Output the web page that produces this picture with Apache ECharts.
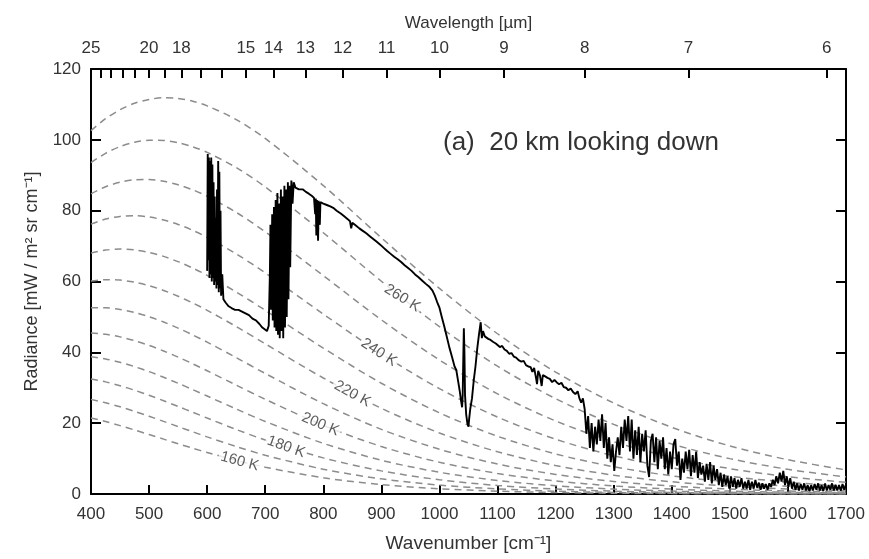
<!DOCTYPE html>
<html>
<head>
<meta charset="utf-8">
<script src="https://cdn.jsdelivr.net/npm/echarts@6/dist/echarts.min.js"></script>
<style>
body { margin: 0; background: #fff; }
#chart { width: 869px; height: 559px; }
</style>
</head>
<body>
<div id="chart"></div>
<script>
// wavenumbers where the blackbody curves were read
var planckWn = [400, 425, 450, 475, 500, 525, 550, 575, 600, 650, 700, 800, 900, 1000, 1100, 1200, 1300, 1400, 1500, 1600, 1700];
var curveTemps = [270, 260, 250, 240, 230, 220, 210, 200, 190, 180, 170, 160];
var r270 = [102.6, 105.96, 108.5, 110.34, 111.4, 111.87, 111.7, 110.91, 109.6, 105.73, 100.4, 87.09, 72.35, 58.05, 45.25, 34.44, 25.68, 18.82, 13.58, 9.67, 6.81];
var r260 = [93.56, 96.20, 98.10, 99.31, 99.86, 99.81, 99.17, 98.05, 96.46, 92.16, 86.70, 73.76, 60.08, 47.24, 36.09, 26.92, 19.67, 14.12, 9.985, 6.968, 4.805];
var r250 = [84.76, 86.74, 88.04, 88.70, 88.77, 88.29, 87.31, 85.89, 84.07, 79.52, 74.04, 61.66, 49.16, 37.83, 28.28, 20.63, 14.75, 10.36, 7.164, 4.890, 3.298];
var r240 = [76.21, 77.62, 78.38, 78.57, 78.21, 77.38, 76.11, 74.46, 72.48, 67.80, 62.42, 50.81, 39.58, 29.75, 21.72, 15.47, 10.80, 7.403, 4.999, 3.331, 2.194];
var r230 = [68.01, 68.87, 69.15, 68.92, 68.22, 67.09, 65.60, 63.80, 61.75, 57.05, 51.88, 41.19, 31.27, 22.91, 16.30, 11.31, 7.694, 5.139, 3.382, 2.195, 1.409];
var r220 = [60.11, 60.51, 60.39, 59.80, 58.82, 57.48, 55.83, 53.95, 51.87, 47.28, 42.41, 32.76, 24.19, 17.23, 11.92, 8.042, 5.315, 3.452, 2.207, 1.393, 0.869];
var r210 = [52.59, 52.58, 52.11, 51.25, 50.05, 48.56, 46.84, 44.93, 42.88, 38.52, 34.04, 25.50, 18.26, 12.62, 8.458, 5.533, 3.546, 2.232, 1.383, 0.846, 0.512];
var r200 = [45.45, 45.10, 44.36, 43.29, 41.95, 40.38, 38.64, 36.77, 34.80, 30.76, 26.73, 19.37, 13.41, 8.953, 5.802, 3.668, 2.271, 1.382, 0.828, 0.489, 0.286];
var r190 = [38.74, 38.12, 37.18, 35.96, 34.55, 32.96, 31.26, 29.48, 27.66, 24.00, 20.48, 14.30, 9.533, 6.130, 3.825, 2.329, 1.388, 0.813, 0.469, 0.267, 0.150];
var r180 = [32.49, 31.66, 30.58, 29.30, 27.88, 26.33, 24.72, 23.08, 21.44, 18.23, 15.23, 10.20, 6.527, 4.024, 2.408, 1.405, 0.803, 0.451, 0.250, 0.136, 0.073];
var r170 = [26.72, 25.76, 24.62, 23.33, 21.95, 20.50, 19.04, 17.57, 16.13, 13.41, 10.95, 7.002, 4.274, 2.514, 1.435, 0.799, 0.436, 0.234, 0.123, 0.064, 0.033];
var r160 = [21.48, 20.46, 19.31, 18.07, 16.79, 15.49, 14.20, 12.94, 11.73, 9.493, 7.556, 4.584, 2.655, 1.481, 0.802, 0.424, 0.219, 0.111, 0.056, 0.028, 0.013];
var curveRad = [r270, r260, r250, r240, r230, r220, r210, r200, r190, r180, r170, r160];

// temperature labels sitting on the curves
var labelTemps = [260, 240, 220, 200, 180, 160];
var labelWn = [936, 896, 850, 795, 736, 656];
var labelRad = [55.3, 40.0, 28.3, 19.7, 13.3, 9.2];

// measured spectrum [wavenumber, radiance]
var spectrum = [
  [600,63],[601,96],[602,66],[603,95],[604,61],[605,94],[606,62],[607,95],[608,60],[609,93],[610,61],[611,88],[612,59],[613,84],[614,60],[615,78],[616,58],[617,86],[618,59],[619,94],[620,57],[621,91],[622,58],[623,80],[624,56],[626,62],[628,55],[632,54],[637,53],[642,52.5],[648,52],[654,52],[660,51.5],[666,51],[672,50.5],[678,49.5],[684,49],[690,48],[695,47],[699,46.5],[703,46],[706,47.5],
  [708,62],[709,76],[710,52],[712,79],[713,49],[715,81],[716,47],[718,83],[719,46],[721,85],[722,45],[724,82],[725,44],[727,86],[728,46],[730,84],[731,44],[733,87],[734,47],[736,86],[737,50],[739,88],[740,55],[742,87],[743,64],[745,88.5],[747,82],[749,88],[752,86.5],[755,87],[758,86],
  [760,86.5],[765,86],[770,85.3],[775,84.8],[780,84.2],[784,83.6],[786,79],[787,83.4],[788,73],[789,83],[791,71.5],[792,82.8],[794,76],[795,82.4],[800,82],[806,81.6],[812,81.2],[817,80.8],[823,80],[830,79.2],[836,78.4],[842,77.6],[846,77],[848,75],[850,76.6],[856,75.8],[862,75],[868,74.3],[874,73.6],[880,72.8],[886,72],[892,71.2],[898,70.4],[904,69.5],[910,68.6],[916,67.8],[922,67],[928,66.3],[934,65.5],[940,64.6],[946,63.8],[952,63],[958,62],[964,61.2],[970,60.3],[976,59.4],[982,58.6],[988,57.4],[992,56],[996,54.2],
  [1000,52.6],[1004,50],[1008,47.5],[1012,44.8],[1017,41.4],[1022,38.5],[1026,36],[1029,35],[1032,32],[1035,29],[1037,26.5],[1039,24.5],[1040,28],[1041,38],[1042,46.8],[1043,40],[1044,28],[1046,22.5],[1048,20],[1050,19],[1051,21],[1053,24],[1056,27],[1059,32],[1062,36],[1065,41],[1068,45],[1071,48.5],[1073,44],[1075,46],[1078,44.5],[1080,45],[1084,43.8],[1088,43.5],[1092,43],[1097,42.5],[1100,42.2],
  [1104,41.5],[1108,41.8],[1112,40.8],[1116,40.4],[1120,39.6],[1124,39.8],[1128,38.8],[1132,38.5],[1137,37.7],[1141,37.4],[1145,37.6],[1149,36.4],[1153,36],[1157,35.8],[1160,34.5],[1163,35.6],[1166,33],[1168,31],[1170,34.8],[1173,33.5],[1176,30.5],[1178,33.6],[1182,33.2],[1186,32.8],[1190,32.5],[1194,31.6],[1198,32.2],[1202,31.5],[1206,31],[1210,31.4],[1214,30.2],[1218,30],[1222,29.3],[1226,29.8],[1230,28.8],[1234,28.2],[1238,29],[1241,27],[1244,25.8],[1247,27],
  [1250,24],[1253,17],[1256,22],[1259,13],[1262,20],[1265,12],[1268,19],[1271,14],[1274,21],[1277,15],[1280,22.5],[1283,13],[1286,20],[1289,10],[1292,16],[1295,9],[1298,14],[1301,6.5],[1304,12],[1307,16],[1310,11],[1313,19],[1316,13],[1319,21],[1322,15],[1325,22],[1328,12],[1331,21],[1334,10],[1337,18],[1340,11],[1343,19],[1346,9],[1349,17],[1352,12],[1355,18],[1358,8],[1361,4.8],[1364,15],[1367,17],[1370,9],[1373,16],[1376,7],[1379,15],[1382,10],[1385,16],[1388,7],[1391,13],[1394,5.5],[1397,12],[1400,7],
  [1403,14],[1406,15.5],[1409,8],[1412,12],[1415,4],[1418,10],[1421,6],[1424,12],[1427,7],[1430,12.5],[1433,5],[1436,11],[1439,6],[1442,12],[1445,4.5],[1448,9],[1451,5.5],[1454,8],[1457,3.5],[1460,8.5],[1463,4],[1466,9],[1469,3],[1472,8],[1475,4],[1478,7],[1481,2.5],[1484,6],[1487,2],[1490,5.5],[1493,2.5],[1496,5],[1499,1.5],
  [1502,5],[1505,2],[1508,4.5],[1511,1.5],[1514,4],[1517,2],[1520,4.5],[1523,1.5],[1526,3.5],[1529,1.5],[1532,4],[1535,1.2],[1538,3.5],[1541,1.5],[1544,4],[1547,1.8],[1550,3.2],[1553,1.2],[1556,3],[1559,1.5],[1562,2.8],[1565,1.2],[1568,3],[1571,2],[1574,4],[1577,2.5],[1580,5],[1583,3],[1586,6],[1589,3.5],[1592,6.5],[1595,2.5],[1598,5],
  [1601,2],[1604,4.5],[1607,1.5],[1610,3.5],[1613,1.2],[1616,3],[1619,1],[1622,2.8],[1625,1.2],[1628,3],[1631,1],[1634,2.5],[1637,0.8],[1640,2.5],[1643,1],[1646,2.8],[1649,1.2],[1652,3],[1655,1],[1658,2.5],[1661,0.8],[1664,3],[1667,1],[1670,2.5],[1673,1.2],[1676,3],[1679,1],[1682,2.6],[1685,1],[1688,2.5],[1691,0.9],[1694,2.8],[1697,1.2],[1700,2.5]
];

// top axis, wavelength in micrometres
var topTickUm = [25, 24, 23, 22, 21, 20, 19, 18, 17, 16, 15, 14, 13, 12, 11, 10, 9, 8, 7, 6];
var topLabelUm = [25, 20, 18, 15, 14, 13, 12, 11, 10, 9, 8, 7, 6];

var labelRotate = [-32, -33, -29, -23, -20, -15];
var font = 'Liberation Sans, Arial, sans-serif';
var txt = '#333';

var series = [];
for (var i = 0; i < curveTemps.length; i++) {
  series.push({
    name: curveTemps[i] + ' K',
    type: 'line',
    xAxisIndex: 0, yAxisIndex: 0,
    smooth: 0.3,
    showSymbol: false,
    silent: true,
    data: planckWn.map(function (w, j) { return [w, curveRad[i][j]]; }),
    lineStyle: { color: '#8c8c8c', width: 1.5, type: [7, 5] },
    z: 2
  });
}
series.push({
  name: 'spectrum',
  type: 'line',
  showSymbol: false,
  data: spectrum,
  lineStyle: { color: '#000', width: 1.9 },
  z: 5
});
series.push({
  type: 'scatter',
  symbolSize: 0,
  silent: true,
  z: 4,
  data: labelTemps.map(function (t, k) {
    return {
      value: [labelWn[k], labelRad[k]],
      name: t + ' K',
      label: { rotate: labelRotate[k] }
    };
  }),
  label: {
    show: true,
    position: 'inside',
    formatter: '{b}',
    fontSize: 15,
    color: txt,
    fontFamily: font,
    backgroundColor: '#fff',
    padding: [0, 2]
  }
});

function plain(v) { return String(v); }

var chart = echarts.init(document.getElementById('chart'));
chart.setOption({
  animation: false,
  backgroundColor: '#fff',
  textStyle: { fontFamily: font },
  title: {
    text: '(a)  20 km looking down',
    left: 438, top: 125,
    textStyle: { fontSize: 26, fontWeight: 'normal', color: txt, fontFamily: font }
  },
  grid: { left: 91, right: 23, top: 69, bottom: 65 },
  xAxis: [{
    type: 'value', position: 'bottom', min: 400, max: 1700, interval: 100,
    name: 'Wavenumber [cm⁻¹]', nameLocation: 'middle', nameGap: 40,
    nameTextStyle: { fontSize: 19, color: txt },
    axisLine: { onZero: false, lineStyle: { color: '#000', width: 2 } },
    axisTick: { inside: true, length: 9, lineStyle: { color: '#000', width: 2 } },
    axisLabel: { margin: 12, fontSize: 17, color: txt, formatter: plain },
    splitLine: { show: false }
  }, {
    type: 'value', position: 'top', min: 400, max: 1700,
    name: 'Wavelength [µm]', nameLocation: 'middle', nameGap: 37,
    nameTextStyle: { fontSize: 17, color: txt },
    axisLine: { onZero: false, lineStyle: { color: '#000', width: 2 } },
    axisTick: {
      inside: true, length: 9, lineStyle: { color: '#000', width: 2 },
      customValues: topTickUm.map(function (u) { return 10000 / u; })
    },
    axisLabel: {
      margin: 12, fontSize: 17, color: txt,
      customValues: topLabelUm.map(function (u) { return 10000 / u; }),
      formatter: function (v) { return String(Math.round(10000 / v)); }
    },
    splitLine: { show: false }
  }],
  yAxis: [{
    type: 'value', position: 'left', min: 0, max: 120, interval: 20,
    name: 'Radiance [mW / m² sr cm⁻¹]', nameLocation: 'middle', nameGap: 50,
    nameTextStyle: { fontSize: 18, color: txt },
    axisLine: { show: true, onZero: false, lineStyle: { color: '#000', width: 2 } },
    axisTick: { show: true, inside: true, length: 10, lineStyle: { color: '#000', width: 2 } },
    axisLabel: { margin: 10, fontSize: 17, color: txt, formatter: plain },
    splitLine: { show: false }
  }, {
    type: 'value', position: 'right', min: 0, max: 120, interval: 20,
    axisLine: { show: true, onZero: false, lineStyle: { color: '#000', width: 2 } },
    axisTick: { show: true, inside: true, length: 10, lineStyle: { color: '#000', width: 2 } },
    axisLabel: { show: false },
    splitLine: { show: false }
  }],
  series: series
});
</script>
</body>
</html>
